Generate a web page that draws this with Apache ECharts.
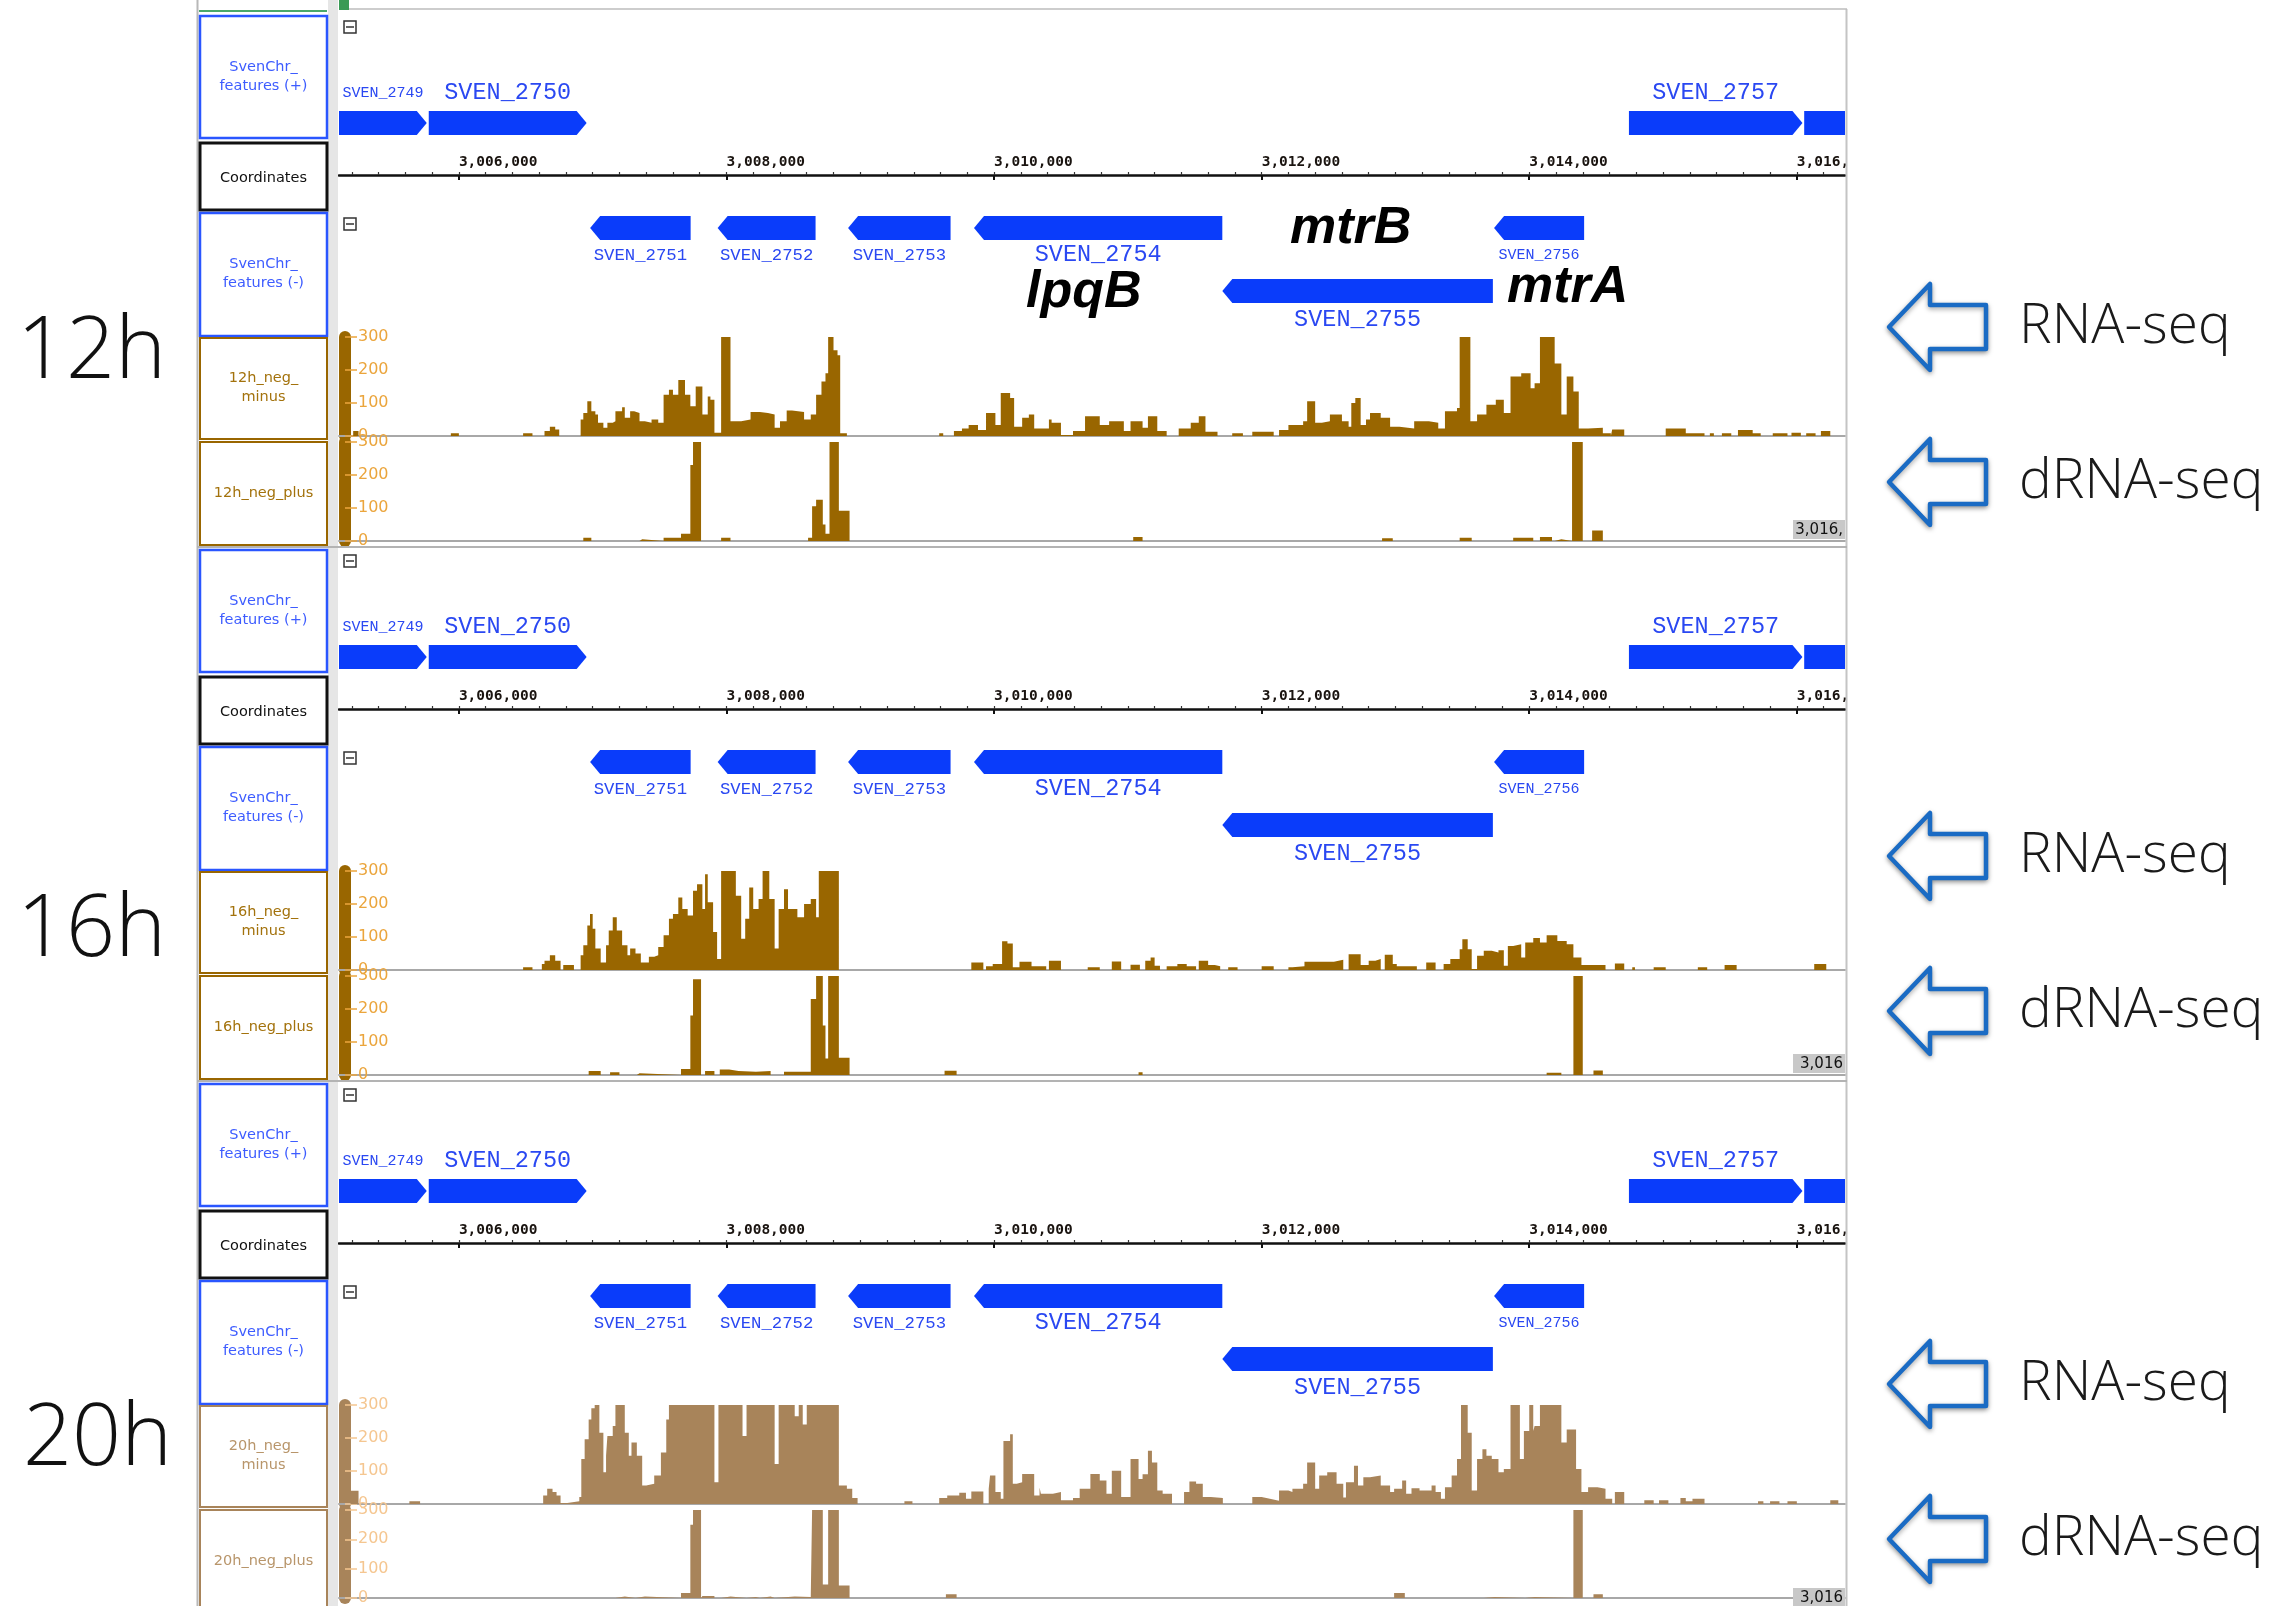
<!DOCTYPE html>
<html>
<head>
<meta charset="utf-8">
<script src="https://cdn.jsdelivr.net/npm/echarts@6/dist/echarts.min.js"></script>
<style>
html, body { margin: 0; padding: 0; background: #fff; }
#main { width: 2294px; height: 1606px; }
</style>
</head>
<body>
<div id="main"></div>
<script>
// visible window on the chromosome (bp)
var XMIN = 3005104, XMAX = 3016360;

var tickLabels = [3006000, 3008000, 3010000, 3012000, 3014000, 3016000];

// genes on + strand
var plusGeneNames = ['SVEN_2749', 'SVEN_2750', 'SVEN_2757', 'SVEN_2758'];
var plusGeneStarts = [3004700, 3005775, 3014745, 3016055];
var plusGeneEnds = [3005760, 3006955, 3016042, 3016900];

// genes on - strand
var minusGeneNames = ['SVEN_2751', 'SVEN_2752', 'SVEN_2753', 'SVEN_2754', 'SVEN_2755', 'SVEN_2756'];
var minusGeneStarts = [3006981, 3007934, 3008909, 3009850, 3011706, 3013737];
var minusGeneEnds = [3007732, 3008666, 3009675, 3011706, 3013728, 3014410];
var minusGeneRows = [0, 0, 0, 0, 1, 0];

var timePoints = ['12h', '16h', '20h'];
var boxTags = ['3,016,', '3,016', '3,016'];

// coverage, [start bp, reads] - value holds until next start
var cov12Minus = [[3005100,0],[3005210,15],[3005250,0],[3005940,8],[3006000,0],[3006480,8],[3006550,0],[3006640,15],[3006680,28],[3006720,20],[3006750,0],[3006910,50],[3006930,70],[3006960,105],[3006990,75],[3007020,65],[3007040,40],[3007080,25],[3007110,40],[3007150,45],[3007170,75],[3007220,87],[3007240,55],[3007280,75],[3007310,70],[3007350,45],[3007390,40],[3007440,50],[3007490,40],[3007530,125],[3007570,140],[3007600,125],[3007640,170],[3007690,125],[3007730,90],[3007770,150],[3007820,65],[3007860,120],[3007880,110],[3007910,10],[3007960,300],[3008030,45],[3008110,50],[3008180,73],[3008250,70],[3008310,65],[3008360,25],[3008400,45],[3008450,77],[3008490,73],[3008580,50],[3008630,65],[3008670,125],[3008710,165],[3008740,190],[3008760,300],[3008800,260],[3008830,245],[3008850,8],[3008900,0],[3009590,8],[3009620,0],[3009700,15],[3009760,23],[3009810,33],[3009880,18],[3009940,70],[3010010,33],[3010050,130],[3010120,115],[3010150,28],[3010210,55],[3010260,65],[3010300,23],[3010410,50],[3010430,40],[3010500,3],[3010590,15],[3010680,60],[3010790,33],[3010860,45],[3010970,15],[3011020,45],[3011110,25],[3011150,60],[3011220,15],[3011290,0],[3011380,23],[3011470,40],[3011530,60],[3011580,13],[3011670,0],[3011780,8],[3011860,0],[3011930,13],[3012090,0],[3012130,18],[3012200,33],[3012310,45],[3012340,105],[3012400,40],[3012450,45],[3012510,65],[3012600,45],[3012650,28],[3012670,100],[3012700,115],[3012740,33],[3012780,50],[3012810,70],[3012890,55],[3012960,28],[3013030,23],[3013140,45],[3013250,40],[3013320,23],[3013370,75],[3013460,85],[3013480,300],[3013560,45],[3013610,65],[3013680,95],[3013750,110],[3013810,70],[3013860,180],[3013940,190],[3014010,145],[3014040,160],[3014080,300],[3014190,220],[3014240,65],[3014280,180],[3014330,135],[3014370,23],[3014440,25],[3014550,8],[3014610,0],[3014620,20],[3014710,0],[3015020,23],[3015170,8],[3015310,0],[3015350,8],[3015380,0],[3015440,8],[3015510,0],[3015560,18],[3015670,8],[3015730,0],[3015820,8],[3015930,0],[3015960,10],[3016030,0],[3016070,8],[3016140,0],[3016180,15],[3016250,0],[3016370,0]];

var cov12Plus = [[3005100,0],[3006930,10],[3006990,0],[3007350,5],[3007370,0],[3007530,10],[3007660,22],[3007730,230],[3007750,300],[3007810,0],[3007960,10],[3008030,0],[3008610,10],[3008640,105],[3008670,125],[3008720,50],[3008740,22],[3008770,300],[3008840,92],[3008920,0],[3011040,12],[3011110,0],[3012900,8],[3012980,0],[3013480,10],[3013570,0],[3013880,10],[3014030,0],[3014080,12],[3014170,0],[3014190,5],[3014240,0],[3014320,300],[3014400,0],[3014470,32],[3014550,0],[3016370,0]];

var cov16Minus = [[3005100,0],[3006480,8],[3006550,0],[3006620,18],[3006640,28],[3006680,45],[3006720,28],[3006760,0],[3006780,15],[3006860,0],[3006910,45],[3006930,75],[3006960,135],[3006980,170],[3007000,125],[3007020,65],[3007060,23],[3007100,75],[3007120,120],[3007150,160],[3007180,120],[3007220,75],[3007260,45],[3007280,65],[3007320,50],[3007360,23],[3007420,40],[3007460,45],[3007490,70],[3007530,105],[3007570,155],[3007600,170],[3007640,220],[3007670,185],[3007710,165],[3007750,240],[3007780,260],[3007820,185],[3007840,290],[3007860,205],[3007900,115],[3007930,33],[3007960,300],[3008070,225],[3008110,95],[3008140,155],[3008170,250],[3008200,185],[3008240,215],[3008270,300],[3008320,215],[3008360,65],[3008390,185],[3008430,245],[3008460,185],[3008530,160],[3008580,200],[3008630,215],[3008670,160],[3008690,300],[3008840,0],[3009830,23],[3009920,0],[3009940,11],[3009990,18],[3010060,87],[3010100,80],[3010140,8],[3010190,25],[3010280,11],[3010390,0],[3010410,28],[3010500,0],[3010700,8],[3010790,0],[3010880,26],[3010950,0],[3011020,16],[3011090,0],[3011130,28],[3011170,38],[3011200,13],[3011240,0],[3011290,11],[3011370,18],[3011440,11],[3011510,0],[3011530,28],[3011600,15],[3011650,11],[3011690,0],[3011750,8],[3011820,0],[3012000,11],[3012090,0],[3012200,8],[3012230,11],[3012320,25],[3012540,31],[3012610,0],[3012650,48],[3012740,15],[3012800,28],[3012850,33],[3012890,0],[3012920,46],[3012980,18],[3013010,11],[3013160,0],[3013230,23],[3013300,0],[3013360,18],[3013410,33],[3013480,63],[3013500,93],[3013540,63],[3013570,3],[3013610,43],[3013660,58],[3013720,53],[3013770,60],[3013810,13],[3013840,73],[3013880,78],[3013940,38],[3013970,83],[3014030,97],[3014080,83],[3014130,105],[3014210,88],[3014280,78],[3014330,38],[3014390,15],[3014570,0],[3014640,20],[3014710,0],[3014770,8],[3014790,0],[3014930,8],[3015020,0],[3015260,8],[3015330,0],[3015460,15],[3015550,0],[3016130,18],[3016220,0],[3016370,0]];

var cov16Plus = [[3005100,0],[3006970,12],[3007060,0],[3007130,8],[3007200,0],[3007330,5],[3007350,0],[3007660,18],[3007730,180],[3007750,290],[3007810,0],[3007840,12],[3007910,0],[3007950,17],[3008020,12],[3008090,10],[3008220,12],[3008330,0],[3008430,10],[3008630,230],[3008670,300],[3008720,150],[3008740,50],[3008760,300],[3008840,52],[3008920,0],[3009630,13],[3009720,0],[3011080,8],[3011110,0],[3013680,3],[3013690,0],[3014130,7],[3014240,0],[3014330,300],[3014400,0],[3014480,14],[3014550,0],[3016370,0]];

var cov20Minus = [[3005100,0],[3005190,40],[3005250,0],[3005630,8],[3005710,0],[3006630,26],[3006660,46],[3006700,36],[3006730,26],[3006760,3],[3006810,8],[3006900,21],[3006915,136],[3006940,196],[3006970,256],[3006990,290],[3007015,300],[3007050,216],[3007080,96],[3007100,146],[3007110,206],[3007150,236],[3007170,300],[3007240,216],[3007270,146],[3007290,186],[3007330,146],[3007370,56],[3007400,61],[3007460,86],[3007510,156],[3007550,256],[3007570,300],[3007910,66],[3007940,300],[3008120,206],[3008150,300],[3008360,121],[3008390,300],[3008510,266],[3008540,300],[3008570,241],[3008600,300],[3008840,56],[3008900,46],[3008940,18],[3008980,0],[3009330,8],[3009390,0],[3009590,18],[3009650,26],[3009740,34],[3009790,16],[3009830,38],[3009920,0],[3009960,46],[3009970,86],[3010010,36],[3010050,16],[3010070,191],[3010120,211],[3010140,61],[3010170,66],[3010210,91],[3010300,26],[3010340,50],[3010350,31],[3010440,36],[3010500,11],[3010590,18],[3010640,46],[3010720,91],[3010790,71],[3010840,31],[3010880,101],[3010950,21],[3011020,136],[3011080,76],[3011110,90],[3011150,161],[3011180,126],[3011220,41],[3011260,31],[3011330,0],[3011420,36],[3011460,68],[3011510,61],[3011560,21],[3011620,18],[3011710,0],[3011930,21],[3012000,15],[3012070,10],[3012130,41],[3012200,36],[3012230,46],[3012310,61],[3012340,126],[3012400,46],[3012430,86],[3012490,96],[3012560,61],[3012610,20],[3012630,66],[3012690,116],[3012720,56],[3012760,81],[3012810,86],[3012890,56],[3012960,36],[3012990,46],[3013050,71],[3013080,31],[3013120,48],[3013180,41],[3013270,56],[3013300,36],[3013340,16],[3013370,51],[3013420,86],[3013460,136],[3013490,300],[3013540,216],[3013570,41],[3013610,136],[3013650,166],[3013680,146],[3013720,136],[3013770,96],[3013810,106],[3013860,300],[3013930,136],[3013960,221],[3014000,300],[3014030,221],[3014040,236],[3014080,300],[3014240,186],[3014280,226],[3014350,106],[3014390,36],[3014440,51],[3014510,46],[3014570,16],[3014620,0],[3014640,36],[3014710,0],[3014860,11],[3014930,0],[3014970,11],[3015040,0],[3015130,18],[3015170,8],[3015220,16],[3015310,0],[3015710,8],[3015750,0],[3015800,8],[3015870,0],[3015930,8],[3016000,0],[3016250,11],[3016310,0],[3016370,0]];

var cov20Plus = [[3005100,0],[3007170,5],[3007240,0],[3007320,5],[3007390,0],[3007660,17],[3007730,250],[3007750,300],[3007810,0],[3007820,7],[3007910,0],[3007960,5],[3008030,0],[3008150,3],[3008220,0],[3008250,5],[3008330,0],[3008360,5],[3008510,3],[3008630,0],[3008640,300],[3008720,46],[3008760,300],[3008840,43],[3008920,0],[3009640,13],[3009720,0],[3012990,17],[3013070,0],[3013660,3],[3013740,0],[3013970,3],[3014040,0],[3014330,300],[3014400,0],[3014480,13],[3014550,0],[3016370,0]];

var covMinus = [cov12Minus, cov16Minus, cov20Minus];
var covPlus = [cov12Plus, cov16Plus, cov20Plus];

// page layout
var blockTop = [16, 550, 1084];
var DATA_L = 339, DATA_W = 1506;
var GENE_COLOR = '#0a3cfa', GENE_TEXT = '#2a48f2';
var trackColor = ['#996600', '#996600', '#a8845a'];
var rangeColor = ['#eba53c', '#eba53c', '#f5c690'];
var nameColor = ['#a3720c', '#a3720c', '#b8956a'];

var minorTicks = [];
for (var t = Math.ceil(XMIN / 200) * 200; t <= XMAX; t += 200) minorTicks.push(t);

function fmtBp(v) {
    var s = String(v).replace(/\B(?=(\d{3})+(?!\d))/g, ',');
    return v > XMAX - 1000 ? s.slice(0, 6) : s;
}

function geneRenderer(strand) {
    return function (params, api) {
        var cs = params.coordSys;
        var s = api.coord([api.value(0), 0])[0];
        var e = api.coord([api.value(1), 0])[0];
        var row = api.value(2), idx = api.value(3);
        var name = (strand > 0 ? plusGeneNames : minusGeneNames)[idx];
        var left = cs.x, right = cs.x + cs.width;
        var h = 24, head = 10;
        var top = strand > 0 ? cs.y + 95 : cs.y + 3 + row * 63;
        var x0 = Math.max(s, left), x1 = Math.min(e, right);
        var pts;
        if (strand > 0) {
            pts = e <= right
                ? [[x0, top], [x1 - head, top], [x1, top + h / 2], [x1 - head, top + h], [x0, top + h]]
                : [[x0, top], [x1, top], [x1, top + h], [x0, top + h]];
        } else {
            pts = s >= left
                ? [[x0, top + h / 2], [x0 + head, top], [x1, top], [x1, top + h], [x0 + head, top + h]]
                : [[x0, top], [x1, top], [x1, top + h], [x0, top + h]];
        }
        var w = x1 - x0;
        var fs = w > 140 ? 23.5 : (w > 95 ? 17.3 : 15);
        var children = [{ type: 'polygon', shape: { points: pts }, style: { fill: GENE_COLOR } }];
        if (name.length * 0.6 * fs <= w + 12) {
            children.push({
                type: 'text',
                x: (x0 + x1) / 2,
                y: strand > 0 ? top - 18 : top + h + 15 + row * 2,
                style: { text: name, fill: GENE_TEXT, font: fs + 'px "Liberation Mono"', align: 'center', verticalAlign: 'middle' }
            });
        }
        return { type: 'group', children: children };
    };
}

var grids = [], xAxes = [], yAxes = [], series = [], graphics = [];

function addGrid(top, height) {
    grids.push({ left: DATA_L, width: DATA_W, top: top, height: height });
    return grids.length - 1;
}
function hiddenY(gi, max) {
    yAxes.push({ gridIndex: gi, type: 'value', min: 0, max: max, show: false });
    return yAxes.length - 1;
}
function hiddenX(gi) {
    xAxes.push({ gridIndex: gi, type: 'value', min: XMIN, max: XMAX, show: false });
    return xAxes.length - 1;
}

function geneTrack(top, strand) {
    var gi = addGrid(top, 123);
    var xi = hiddenX(gi), yi = hiddenY(gi, 1);
    var names = strand > 0 ? plusGeneNames : minusGeneNames;
    var data = names.map(function (n, i) {
        return strand > 0
            ? [plusGeneStarts[i], plusGeneEnds[i], 0, i]
            : [minusGeneStarts[i], minusGeneEnds[i], minusGeneRows[i], i];
    });
    series.push({
        type: 'custom', xAxisIndex: xi, yAxisIndex: yi, data: data,
        encode: { x: [0, 1], y: 2 }, renderItem: geneRenderer(strand), silent: true
    });
}

function rulerTrack(top) {
    var gi = addGrid(top, 20);
    xAxes.push({
        gridIndex: gi, type: 'value', min: XMIN, max: XMAX, position: 'top',
        axisLine: { show: true, onZero: false, lineStyle: { color: '#111', width: 2.5 } },
        axisTick: { show: true, inside: true, length: 5, customValues: tickLabels, lineStyle: { color: '#111', width: 2 } },
        axisLabel: {
            show: true, customValues: tickLabels, formatter: fmtBp, align: 'left', margin: 5,
            fontFamily: 'DejaVu Sans Mono', fontWeight: 'bold', fontSize: 14.5, color: '#1a1410'
        },
        splitLine: { show: false }
    });
    hiddenY(gi, 1);
    var gm = addGrid(top, 20);
    xAxes.push({
        gridIndex: gm, type: 'value', min: XMIN, max: XMAX, position: 'top',
        axisLine: { show: false, onZero: false },
        axisTick: { show: true, length: 3, customValues: minorTicks, lineStyle: { color: '#333', width: 1.2 } },
        axisLabel: { show: false }, splitLine: { show: false }
    });
    hiddenY(gm, 1);
}

function coverageTrack(top, data, b) {
    var gi = addGrid(top, 99);
    xAxes.push({
        gridIndex: gi, type: 'value', min: XMIN, max: XMAX, position: 'bottom',
        axisLine: { show: true, onZero: false, lineStyle: { color: '#a8a8a8', width: 2 } },
        axisTick: { show: false }, axisLabel: { show: false }, splitLine: { show: false }
    });
    yAxes.push({
        gridIndex: gi, type: 'value', min: 0, max: 300, interval: 100, position: 'left', offset: -6,
        axisLine: { show: true, onZero: false, lineStyle: { color: trackColor[b], width: 12 } },
        axisTick: { show: true, inside: true, length: 12, lineStyle: { color: rangeColor[b], width: 1.5 } },
        axisLabel: { show: true, inside: true, margin: 13, color: rangeColor[b], fontSize: 16, fontFamily: 'DejaVu Sans' },
        splitLine: { show: false }
    });
    series.push({
        type: 'line', xAxisIndex: xAxes.length - 1, yAxisIndex: yAxes.length - 1,
        data: data, step: 'end', symbol: 'none', showSymbol: false, clip: true, silent: true,
        lineStyle: { width: 0 }, areaStyle: { color: trackColor[b], opacity: 1 }
    });
}

function box(x, y, w, h, stroke, lw) {
    graphics.push({ type: 'rect', z: 50, shape: { x: x, y: y, width: w, height: h }, style: { fill: '#fff', stroke: stroke, lineWidth: lw } });
}
function label(x, y, text, font, fill, align, lineHeight) {
    graphics.push({
        type: 'text', z: 60, x: x, y: y,
        style: { text: text, font: font, fill: fill, align: align || 'center', verticalAlign: 'middle', lineHeight: lineHeight || 19 }
    });
}
function hline(x1, x2, y, color, lw) {
    graphics.push({ type: 'line', z: 40, shape: { x1: x1, y1: y, x2: x2, y2: y }, style: { stroke: color, lineWidth: lw } });
}
function collapseIcon(x, y) {
    graphics.push({ type: 'rect', z: 60, shape: { x: x, y: y, width: 12, height: 12 }, style: { fill: '#fff', stroke: '#333', lineWidth: 1.5 } });
    hline(x + 2, x + 10, y + 6, '#333', 1.5);
    graphics[graphics.length - 1].z = 61;
}
function leftArrow(cy) {
    graphics.push({
        type: 'polygon', z: 60,
        shape: { points: [[1889, cy], [1930, cy - 43], [1930, cy - 22], [1986, cy - 22], [1986, cy + 22], [1930, cy + 22], [1930, cy + 43]] },
        style: { fill: '#fff', stroke: '#1a6bc4', lineWidth: 4.5, lineJoin: 'round', shadowBlur: 5, shadowOffsetY: 2, shadowColor: 'rgba(0,0,0,0.35)' }
    });
}

// static frame
graphics.push({ type: 'rect', z: 30, shape: { x: 328, y: 0, width: 10, height: 1606 }, style: { fill: '#e6e6e6' } });
graphics.push({ type: 'line', z: 40, shape: { x1: 197.5, y1: 0, x2: 197.5, y2: 1606 }, style: { stroke: '#b8b8b8', lineWidth: 2 } });
graphics.push({ type: 'line', z: 40, shape: { x1: 1846.5, y1: 9, x2: 1846.5, y2: 1606 }, style: { stroke: '#c4c4c4', lineWidth: 2 } });
hline(339, 1847, 9, '#bcbcbc', 1.5);
hline(199, 327, 11, '#4aa86a', 2);
graphics.push({ type: 'rect', z: 40, shape: { x: 339, y: 0, width: 10, height: 10 }, style: { fill: '#3a9a55' } });

timePoints.forEach(function (tp, b) {
    var T = blockTop[b];
    geneTrack(T, 1);
    rulerTrack(T + 159);
    geneTrack(T + 197, -1);
    coverageTrack(T + 321, covMinus[b], b);
    coverageTrack(T + 426, covPlus[b], b);

    if (b > 0) hline(197, 1847, T - 3, '#b3b3b3', 2);
    box(200, T, 127, 122, '#2a56ff', 2.5);
    label(263.5, T + 61, 'SvenChr_\nfeatures (+)', '14.5px "DejaVu Sans"', '#3d5cff');
    box(200, T + 127, 127, 67, '#111', 3);
    label(263.5, T + 162, 'Coordinates', '14.5px "DejaVu Sans"', '#111');
    box(200, T + 197, 127, 123, '#2a56ff', 2.5);
    label(263.5, T + 258, 'SvenChr_\nfeatures (-)', '14.5px "DejaVu Sans"', '#3d5cff');
    box(200, T + 322, 127, 101, trackColor[b], 2);
    label(263.5, T + 372, tp + '_neg_\nminus', '14.5px "DejaVu Sans"', nameColor[b]);
    box(200, T + 426, 127, 103, trackColor[b], 2);
    label(263.5, T + 477, tp + '_neg_plus', '14.5px "DejaVu Sans"', nameColor[b]);
    collapseIcon(344, T + 5);
    collapseIcon(344, T + 202);

    graphics.push({ type: 'rect', z: 60, shape: { x: 1793, y: T + 504, width: 52, height: 19 }, style: { fill: '#c8c8c8' } });
    label(1843, T + 514, boxTags[b], '15px "DejaVu Sans"', '#111', 'right');
});

// gene names highlighted in the 12h panel
label(1290, 229, 'mtrB', 'italic bold 52px "Liberation Sans"', '#000', 'left');
label(1026, 293, 'lpqB', 'italic bold 52px "Liberation Sans"', '#000', 'left');
label(1507, 288, 'mtrA', 'italic bold 52px "Liberation Sans"', '#000', 'left');

// time point labels
var timeLabelY = [353, 931, 1440];
var timeLabelX = [17, 17, 23];
timePoints.forEach(function (tp, b) {
    label(timeLabelX[b], timeLabelY[b], tp, '300 86px "Open Sans"', '#111', 'left');
});

// library type markers
var rnaSeqY = [327, 856, 1384];
var dRnaSeqY = [482, 1011, 1539];
rnaSeqY.forEach(function (y) { leftArrow(y); label(2019, y, 'RNA-seq', '300 55px "Open Sans"', '#1a1a1a', 'left'); });
dRnaSeqY.forEach(function (y) { leftArrow(y); label(2019, y, 'dRNA-seq', '300 55px "Open Sans"', '#1a1a1a', 'left'); });

var chart = echarts.init(document.getElementById('main'), null, { renderer: 'canvas' });
chart.setOption({
    backgroundColor: '#fff',
    animation: false,
    grid: grids,
    xAxis: xAxes,
    yAxis: yAxes,
    series: series,
    graphic: { elements: graphics }
});
</script>
</body>
</html>
